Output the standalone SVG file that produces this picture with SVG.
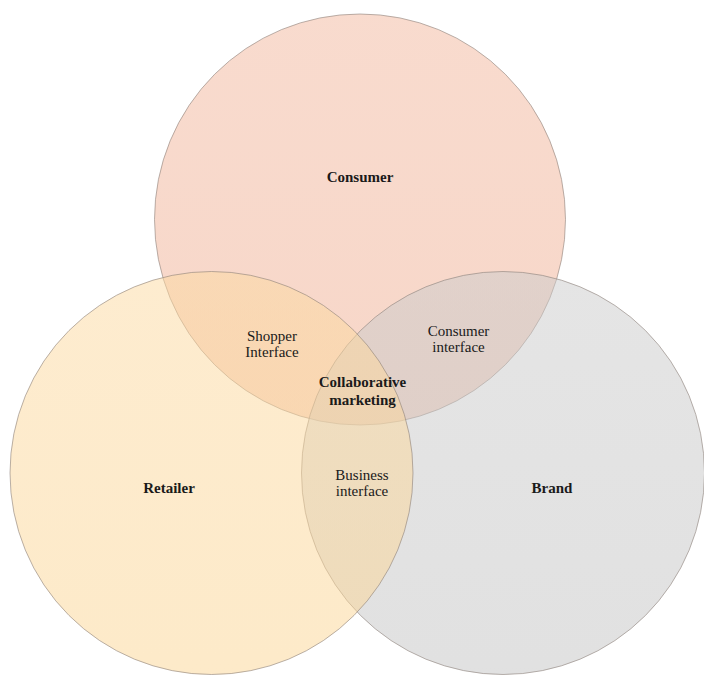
<svg xmlns="http://www.w3.org/2000/svg" width="704" height="675" viewBox="0 0 704 675">
<defs>
<linearGradient id="gC" x1="0" y1="0" x2="0" y2="1"><stop offset="0" stop-color="#F2B79D"/><stop offset="1" stop-color="#EFAE92"/></linearGradient>
<linearGradient id="gB" x1="0" y1="0" x2="0" y2="1"><stop offset="0" stop-color="#CBCBCB"/><stop offset="1" stop-color="#C3C3C3"/></linearGradient>
<linearGradient id="gR" x1="0" y1="0" x2="0" y2="1"><stop offset="0" stop-color="#FCD9A0"/><stop offset="1" stop-color="#FBD593"/></linearGradient>
<style>
.c{fill-opacity:0.5;stroke:#8C8079;stroke-opacity:0.6;stroke-width:1}
text{font-family:"Liberation Serif","Times New Roman",serif;font-size:15px;fill:#1a1a1a;text-anchor:middle}
.b{font-weight:bold}
</style>
</defs>
<rect width="704" height="675" fill="#FFFFFF"/>
<g id="consumer"><circle class="c" cx="360" cy="219.5" r="205.5" fill="url(#gC)"/></g>
<g id="brand"><circle class="c" cx="503" cy="473" r="201.5" fill="url(#gB)"/></g>
<g id="retailer"><circle class="c" cx="211.5" cy="473" r="201.5" fill="url(#gR)"/></g>
<g id="labels">
<text class="b" x="360" y="182">Consumer</text>
<text class="b" x="169" y="493">Retailer</text>
<text class="b" x="552" y="493">Brand</text>
<text x="272" y="341">Shopper</text>
<text x="272" y="357">Interface</text>
<text x="458.5" y="336">Consumer</text>
<text x="458.5" y="352">interface</text>
<text class="b" x="362.5" y="387">Collaborative</text>
<text class="b" x="362.5" y="404.5">marketing</text>
<text x="362" y="479.5">Business</text>
<text x="362" y="495.5">interface</text>
</g>
<g id="connectors"/>
</svg>
